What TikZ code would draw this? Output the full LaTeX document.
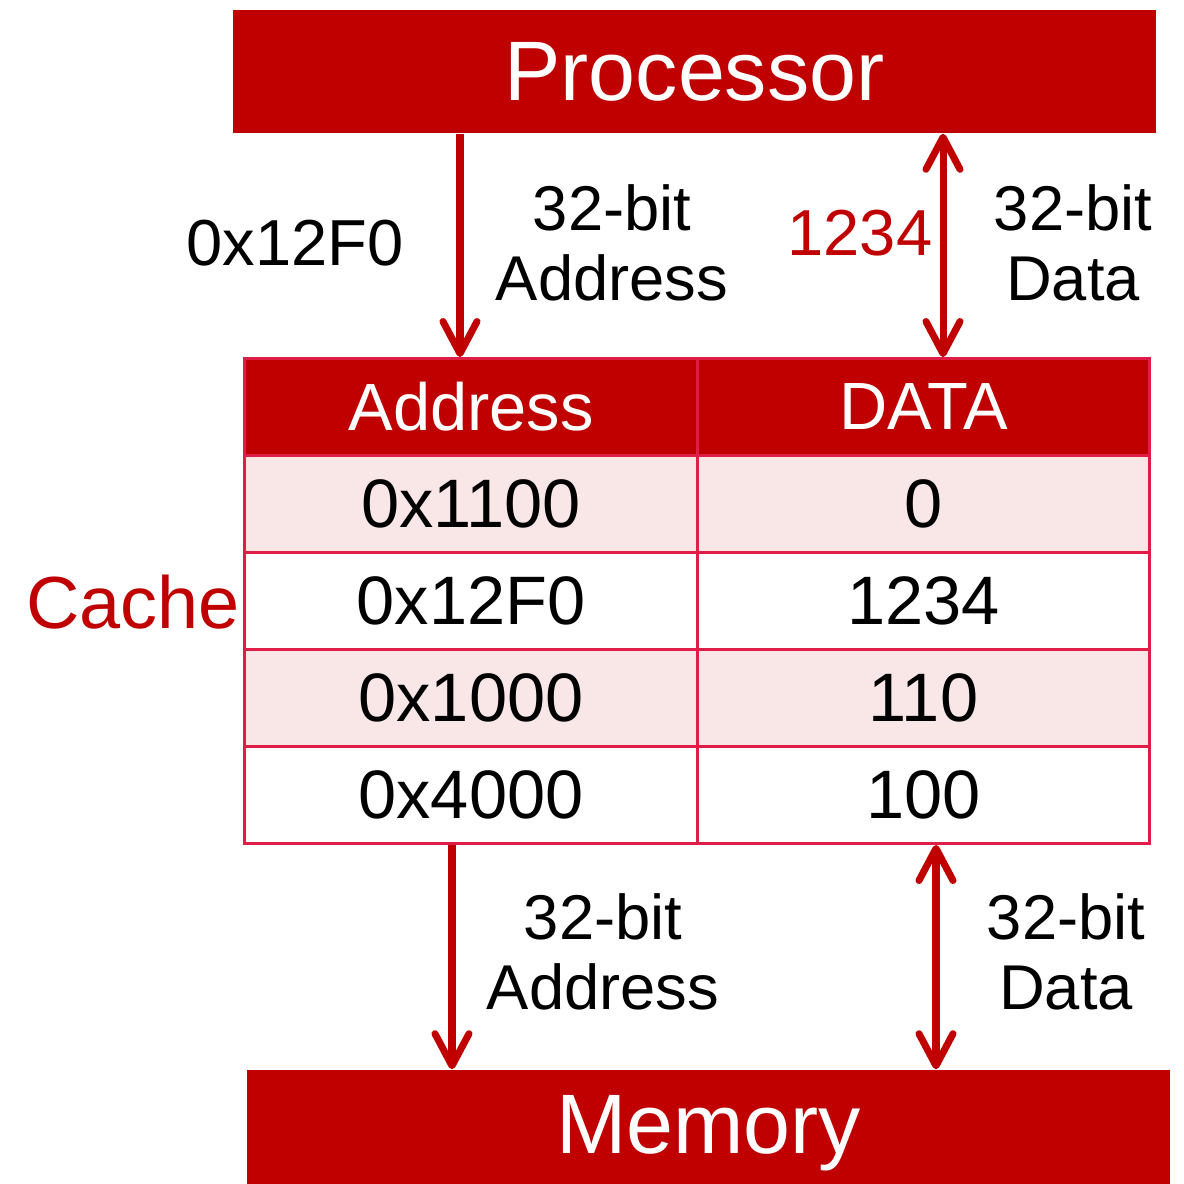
\documentclass[tikz,border=0pt]{standalone}
\usepackage{fontspec}
\setmainfont{Liberation Sans}
\usetikzlibrary{positioning, arrows.meta, calc}

\definecolor{procred}{RGB}{192,0,0}
\definecolor{gridred}{RGB}{222,30,70}
\definecolor{rowpink}{RGB}{249,230,231}

\begin{document}
\begin{tikzpicture}[
    x=0.01cm, y=-0.01cm,
    arrow/.style={
        -{Straight Barb[length=3.2mm, width=3.4mm, round]},
        line width=2pt,
        draw=procred
    },
    dblarrow/.style={
        arrow,
        {Straight Barb[length=3.2mm, width=3.4mm, round]}-{Straight Barb[length=3.2mm, width=3.4mm, round]}
    },
    unit/.style={
        rectangle,
        fill=procred,
        text=white,
        minimum width=9.23cm,
        font=\fontsize{24}{28}\selectfont
    },
    cell/.style={
        rectangle,
        draw=gridred,
        line width=0.8pt,
        minimum width=4.52cm,
        minimum height=0.97cm,
        font=\fontsize{19.5}{22}\selectfont
    },
    head/.style={
        cell,
        fill=procred,
        text=white,
        font=\fontsize{19}{22}\selectfont
    },
    shaded/.style={
        cell,
        fill=rowpink
    },
    bus/.style={
        align=center,
        font=\fontsize{18}{20}\selectfont
    },
    value/.style={
        font=\fontsize{18.5}{22}\selectfont
    }
]
    \useasboundingbox (0,0) rectangle (1184,1184);

    % Processor
    \node[unit, minimum height=1.23cm] (proc) at (694.5,71.5) {Processor};

    % Cache table
    \node[head] (hd_addr) at (471,407) {Address};
    \node[head] (hd_data) at (923.5,407) {DATA};

    \node[shaded] (addr1) at (471,504) {0x1100};
    \node[shaded] (data1) at (923.5,504) {0};
    \node[cell] (addr2) at (471,601) {0x12F0};
    \node[cell] (data2) at (923.5,601) {1234};
    \node[shaded] (addr3) at (471,698) {0x1000};
    \node[shaded] (data3) at (923.5,698) {110};
    \node[cell] (addr4) at (471,795) {0x4000};
    \node[cell] (data4) at (923.5,795) {100};

    \node[text=procred, font=\fontsize{21}{24}\selectfont] (cache) at (133,602) {Cache};

    % Memory
    \node[unit, minimum height=1.26cm] (mem) at (708.5,1133) {Memory};

    % Processor <-> Cache
    \draw[arrow] ([xshift=-0.11cm]hd_addr.north |- proc.south) -- ([xshift=-0.11cm]hd_addr.north);
    \draw[dblarrow] ([xshift=0.195cm]hd_data.north |- proc.south) -- ([xshift=0.195cm]hd_data.north);

    \node[value] (req_addr) at (295,243) {0x12F0};
    \node[bus] (bus_addr1) at (612,243) {32-bit\\Address};
    \node[value, text=procred] (req_data) at (860,233) {1234};
    \node[bus] (bus_data1) at (1073,243) {32-bit\\Data};

    % Cache <-> Memory
    \draw[arrow] ([xshift=-0.19cm]addr4.south) -- ([xshift=-0.19cm]addr4.south |- mem.north);
    \draw[dblarrow] ([xshift=0.125cm]data4.south |- mem.north) -- ([xshift=0.125cm]data4.south);

    \node[bus] (bus_addr2) at (603,952) {32-bit\\Address};
    \node[bus] (bus_data2) at (1066,952) {32-bit\\Data};

\end{tikzpicture}
\end{document}
